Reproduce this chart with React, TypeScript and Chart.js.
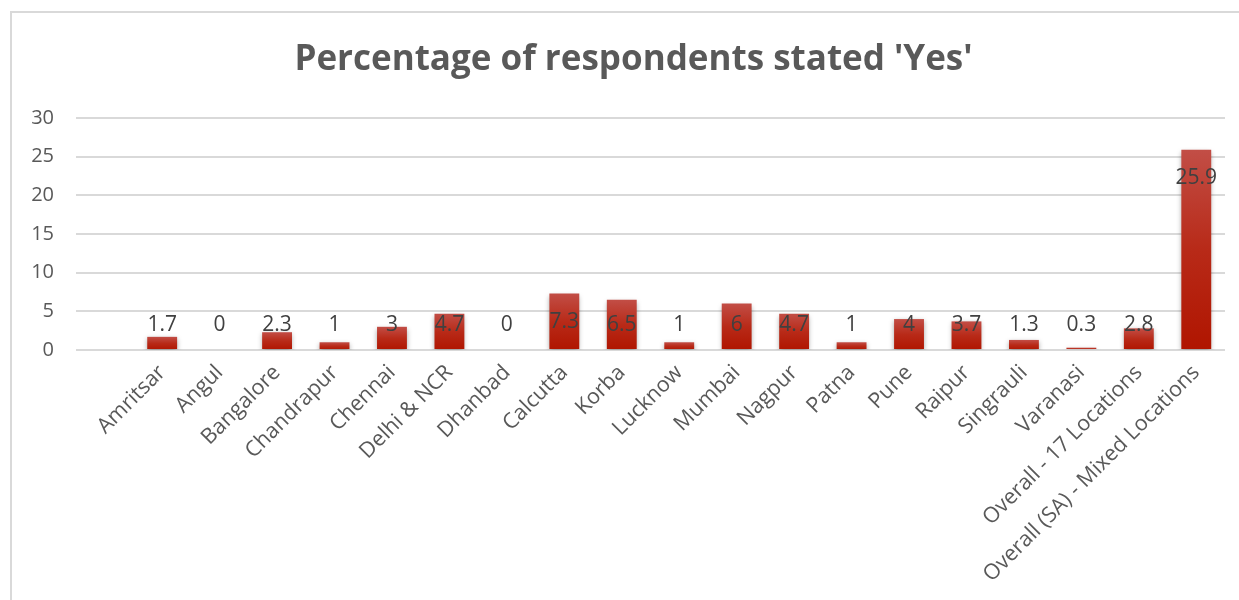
import React, { useEffect, useRef } from "react";
import { Chart, registerables } from "chart.js";

Chart.register(...registerables);

const categories: string[] = [
  "",
  "Amritsar",
  "Angul",
  "Bangalore",
  "Chandrapur",
  "Chennai",
  "Delhi & NCR",
  "Dhanbad",
  "Calcutta",
  "Korba",
  "Lucknow",
  "Mumbai",
  "Nagpur",
  "Patna",
  "Pune",
  "Raipur",
  "Singrauli",
  "Varanasi",
  "Overall - 17 Locations",
  "Overall (SA) - Mixed Locations",
];

const values: (number | null)[] = [
  null, 1.7, 0, 2.3, 1, 3, 4.7, 0, 7.3, 6.5, 1, 6, 4.7, 1, 4, 3.7, 1.3, 0.3, 2.8, 25.9,
];

const yTicks: number[] = [0, 5, 10, 15, 20, 25, 30];

const titleText = "Percentage of respondents stated 'Yes'";
const FONT = "'Open Sans', 'Liberation Sans', sans-serif";

const shadowPlugin = {
  id: "barShadow",
  beforeDatasetsDraw(chart: any) {
    const ctx = chart.ctx;
    ctx.save();
    ctx.shadowColor = "rgba(0,0,0,0.35)";
    ctx.shadowBlur = 5;
    ctx.shadowOffsetX = 0;
    ctx.shadowOffsetY = 2;
  },
  afterDatasetsDraw(chart: any) {
    chart.ctx.restore();
  },
};

const titlePlugin = {
  id: "customTitle",
  afterDraw(chart: any) {
    const ctx = chart.ctx;
    ctx.save();
    ctx.font = `bold 35px ${FONT}`;
    ctx.fillStyle = "#595959";
    ctx.textAlign = "center";
    ctx.textBaseline = "middle";
    ctx.fillText(titleText, chart.width / 2 + 8, 47);
    ctx.restore();
  },
};

const labelPlugin = {
  id: "valueLabels",
  afterDatasetsDraw(chart: any) {
    const ctx = chart.ctx;
    const meta = chart.getDatasetMeta(0);
    const yScale = chart.scales.y;
    const zeroY = yScale.getPixelForValue(0);
    ctx.save();
    ctx.font = `21px ${FONT}`;
    ctx.fillStyle = "#404040";
    ctx.textAlign = "center";
    ctx.textBaseline = "middle";
    meta.data.forEach((el: any, i: number) => {
      const v = values[i];
      if (v === null || v === undefined) return;
      const cy = Math.min(el.y + 28, zeroY - 25);
      ctx.fillText(String(v), el.x, cy);
    });
    ctx.restore();
  },
};

export default function App() {
  const ref = useRef<HTMLCanvasElement | null>(null);

  useEffect(() => {
    if (!ref.current) return;
    const chart = new Chart(ref.current, {
      type: "bar",
      data: {
        labels: categories,
        datasets: [
          {
            data: values as any,
            backgroundColor: (c: any) => {
              const ch = c.chart;
              const ys = ch.scales && ch.scales.y;
              const v = c.raw;
              if (!ys || v === null || v === undefined || c.type !== "data") return "#b41a05";
              const top = ys.getPixelForValue(v);
              const base = ys.getPixelForValue(0);
              if (!isFinite(top) || !isFinite(base) || base - top < 1) return "#b41a05";
              const g = ch.ctx.createLinearGradient(0, top, 0, base);
              g.addColorStop(0, "#c24e46");
              g.addColorStop(0.5, "#b82a18");
              g.addColorStop(1, "#b01500");
              return g;
            },
            borderWidth: 0,
            barPercentage: 0.52,
            categoryPercentage: 1,
          },
        ],
      },
      options: {
        animation: false,
        responsive: false,
        maintainAspectRatio: false,
        layout: { padding: { left: 0, right: 14, top: 105, bottom: 0 } },
        plugins: {
          legend: { display: false },
          tooltip: { enabled: false },
          title: { display: false },
        },
        scales: {
          x: {
            grid: { display: false, drawTicks: false },
            border: { display: false },
            ticks: {
              color: "#595959",
              font: { family: FONT, size: 21.5 },
              minRotation: 45,
              maxRotation: 45,
              autoSkip: false,
              padding: 10,
            },
            afterFit: (s: any) => {
              s.height = 250;
            },
          },
          y: {
            min: 0,
            max: 30,
            afterBuildTicks: (s: any) => {
              s.ticks = yTicks.map((v) => ({ value: v }));
            },
            grid: { color: "#d9d9d9", lineWidth: 2, drawTicks: false },
            border: { display: false },
            ticks: {
              color: "#595959",
              font: { family: FONT, size: 20 },
              padding: 22,
            },
            afterFit: (s: any) => {
              s.width = 64;
            },
          },
        },
      },
      plugins: [shadowPlugin, labelPlugin, titlePlugin],
    });
    return () => chart.destroy();
  }, []);

  return (
    <div style={{ position: "fixed", left: 0, top: 0, width: 1239, height: 600, background: "#fff", overflow: "hidden" }}>
      <div
        style={{
          position: "absolute",
          left: 10,
          top: 11,
          width: 1240,
          height: 600,
          border: "2px solid #d9d9d9",
          boxSizing: "border-box",
        }}
      >
        <canvas ref={ref} width={1227} height={587} style={{ display: "block", width: 1227, height: 587 }} />
      </div>
    </div>
  );
}
